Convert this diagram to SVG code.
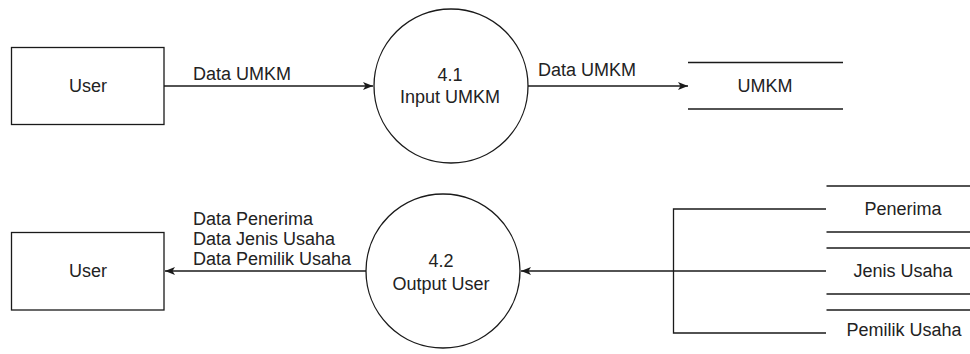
<svg xmlns="http://www.w3.org/2000/svg" width="970" height="354" viewBox="0 0 970 354">
<style>
.shape{fill:#fff;stroke:#1a1a1a;stroke-width:1.3}
.line{fill:none;stroke:#1a1a1a;stroke-width:1.3}
.t{font-family:"Liberation Sans",Arial,sans-serif;font-size:18px;fill:#222}
.c{text-anchor:middle}
</style>
<defs>
<marker id="arr" viewBox="0 0 10 10" refX="10" refY="5" markerWidth="10" markerHeight="10" markerUnits="userSpaceOnUse" orient="auto">
<path d="M0,1 L10,5 L0,9 L2.5,5 Z" fill="#1a1a1a"/>
</marker>
</defs>
<rect width="970" height="354" fill="#fff"/>
<g id="connectors">
<line class="line" x1="164" y1="86" x2="373" y2="86" marker-end="url(#arr)"/>
<text class="t" x="193" y="80">Data UMKM</text>
<line class="line" x1="528" y1="86" x2="688" y2="86" marker-end="url(#arr)"/>
<text class="t" x="538" y="76">Data UMKM</text>
<line class="line" x1="366" y1="271" x2="165" y2="271" marker-end="url(#arr)"/>
<text class="t" x="193" y="225">Data Penerima</text>
<text class="t" x="193" y="245">Data Jenis Usaha</text>
<text class="t" x="193" y="265">Data Pemilik Usaha</text>
<path class="line" d="M826,209 H673.5 V333 H826"/>
<line class="line" x1="826" y1="271" x2="521" y2="271" marker-end="url(#arr)"/>
</g>
<g id="user1">
<rect class="shape" x="11.5" y="47.5" width="152.5" height="77"/>
<text class="t c" x="88" y="91.5">User</text>
</g>
<g id="p41">
<circle class="shape" cx="451" cy="86" r="77"/>
<text class="t c" x="450" y="80.5">4.1</text>
<text class="t c" x="450" y="103">Input UMKM</text>
</g>
<g id="umkm">
<line class="line" x1="688" y1="62.5" x2="843" y2="62.5"/>
<line class="line" x1="688" y1="109" x2="843" y2="109"/>
<text class="t c" x="765" y="91.5">UMKM</text>
</g>
<g id="user2">
<rect class="shape" x="11.5" y="232.5" width="152.5" height="77.5"/>
<text class="t c" x="88" y="277">User</text>
</g>
<g id="p42">
<circle class="shape" cx="443" cy="271" r="77"/>
<text class="t c" x="441" y="266.5">4.2</text>
<text class="t c" x="441" y="289.5">Output User</text>
</g>
<g id="penerima">
<line class="line" x1="826.5" y1="186" x2="970" y2="186"/>
<line class="line" x1="826.5" y1="232" x2="970" y2="232"/>
<text class="t c" x="903" y="215">Penerima</text>
</g>
<g id="jenis">
<line class="line" x1="826.5" y1="248" x2="970" y2="248"/>
<line class="line" x1="826.5" y1="294" x2="970" y2="294"/>
<text class="t c" x="903" y="276.5">Jenis Usaha</text>
</g>
<g id="pemilik">
<line class="line" x1="826.5" y1="310" x2="970" y2="310"/>
<text class="t c" x="904" y="336">Pemilik Usaha</text>
</g>
</svg>
